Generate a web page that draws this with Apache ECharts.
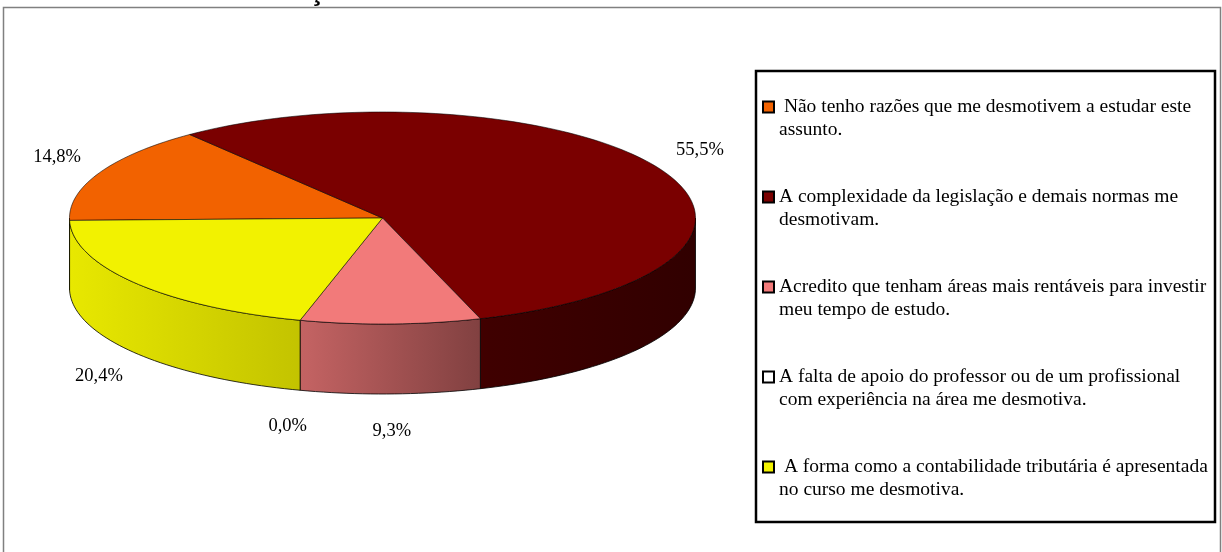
<!DOCTYPE html>
<html>
<head>
<meta charset="utf-8">
<script src="https://cdn.jsdelivr.net/npm/echarts@6/dist/echarts.min.js"></script>
<style>
html, body { margin: 0; padding: 0; background: #fff; }
#pie { width: 1222px; height: 552px; }
</style>
</head>
<body>
<div id="pie"></div>
<script>
// data
const categories = [
  " Não tenho razões que me desmotivem a estudar este\nassunto.",
  "A complexidade da legislação e demais normas me\ndesmotivam.",
  "Acredito que tenham áreas mais rentáveis para investir\nmeu tempo de estudo.",
  "A falta de apoio do professor ou de um profissional\ncom experiência na área me desmotiva.",
  " A forma como a contabilidade tributária é apresentada\nno curso me desmotiva."
];
const percents = [14.8, 55.5, 9.3, 0.0, 20.4];
const colors = ["#F26200", "#7A0000", "#F27A7A", "#FFFFFF", "#F2F200"];
const titleText = "Gráfico 4 – Desmotivação dos alunos sobre o estudo da Contabilidade Tributária";

// tilted pie geometry
const cx = 382.5, cy = 218, rx = 313, ry = 106, depth = 70;
const startDeg = 181.3;
const labelRx = 360, labelRy = 143;

function arc(from, to, dy) {
  const n = Math.max(2, Math.ceil(Math.abs(to - from) / 1.5));
  const pts = [];
  for (let i = 0; i <= n; i++) {
    const a = (from + (to - from) * i / n) * Math.PI / 180;
    pts.push([cx + rx * Math.cos(a), cy - ry * Math.sin(a) + dy]);
  }
  return pts;
}

function shade(hex, f) {
  const n = parseInt(hex.slice(1), 16);
  const r = Math.round(((n >> 16) & 255) * f);
  const g = Math.round(((n >> 8) & 255) * f);
  const b = Math.round((n & 255) * f);
  return "rgb(" + r + "," + g + "," + b + ")";
}

function sideFill(hex) {
  return new echarts.graphic.LinearGradient(cx - rx, 0, cx + rx, 0, [
    { offset: 0, color: shade(hex, 0.96) },
    { offset: 0.38, color: shade(hex, 0.8) },
    { offset: 0.67, color: shade(hex, 0.52) },
    { offset: 1, color: shade(hex, 0.4) }
  ], true);
}

function fmt(v) {
  return v.toFixed(1).replace(".", ",") + "%";
}

function sliceRender(k) {
  return function (params, api) {
    const total = percents.reduce((a, b) => a + b, 0);
    let before = 0;
    for (let i = 0; i < k; i++) before += percents[i];
    const v = api.value(0);
    const a1 = startDeg - before / total * 360;
    const a2 = a1 - v / total * 360;
    const children = [];
    if (v > 0) {
      children.push({
        type: "polygon",
        shape: { points: [[cx, cy]].concat(arc(a1, a2, 0)) },
        style: { fill: colors[k], stroke: "rgba(0,0,0,0.7)", lineWidth: 0.8 },
        z2: 10
      });
      [[-180, 0], [180, 360]].forEach(([lo, hi]) => {
        const s = Math.max(a2, lo), e = Math.min(a1, hi);
        if (e - s > 0.01) {
          children.push({
            type: "polygon",
            shape: { points: arc(e, s, 0).concat(arc(s, e, depth)) },
            style: { fill: sideFill(colors[k]), stroke: "#000", lineWidth: 0.8 },
            z2: 1
          });
        }
      });
    }
    const mid = (a1 + a2) / 2 * Math.PI / 180;
    const sy = Math.sin(mid);
    children.push({
      type: "text",
      x: cx + Math.cos(mid) * labelRx,
      y: cy - sy * labelRy + (sy < 0 ? depth : 0),
      style: {
        text: fmt(v), fill: "#000", font: '18.5px "Liberation Serif"',
        align: "center", verticalAlign: "middle"
      },
      z2: 20
    });
    return { type: "group", children: children };
  };
}

let myChart = echarts.init(document.getElementById("pie"));
let option = {
  animation: false,
  title: {
    text: titleText,
    left: 15,
    top: -21.5,
    padding: 0,
    textStyle: { fontFamily: '"Liberation Sans"', fontWeight: "bold", fontSize: 28, color: "#000" }
  },
  graphic: [
    {
      type: "rect", silent: true,
      shape: { x: 3.5, y: 7.5, width: 1217, height: 600 },
      style: { fill: "none", stroke: "#808080", lineWidth: 1.5 }
    },
    {
      type: "rect", silent: true,
      shape: { x: 756, y: 71, width: 459, height: 451 },
      style: { fill: "none", stroke: "#000", lineWidth: 2.5 }
    }
  ],
  legend: {
    orient: "vertical",
    left: 762,
    top: 72.5,
    padding: 0,
    itemGap: 21,
    itemWidth: 11,
    itemHeight: 11,
    icon: "rect",
    selectedMode: false,
    itemStyle: { borderColor: "#000", borderWidth: 2 },
    // leading empty line keeps the marker level with the first text line
    formatter: name => "\n" + name,
    textStyle: {
      fontFamily: '"Liberation Serif"', fontSize: 19.5, color: "#000",
      lineHeight: 23
    },
    data: categories
  },
  series: categories.map((name, k) => ({
    type: "custom",
    name: name,
    coordinateSystem: "none",
    silent: true,
    itemStyle: { color: colors[k] },
    renderItem: sliceRender(k),
    data: [[percents[k]]]
  }))
};
myChart.setOption(option);
</script>
</body>
</html>
